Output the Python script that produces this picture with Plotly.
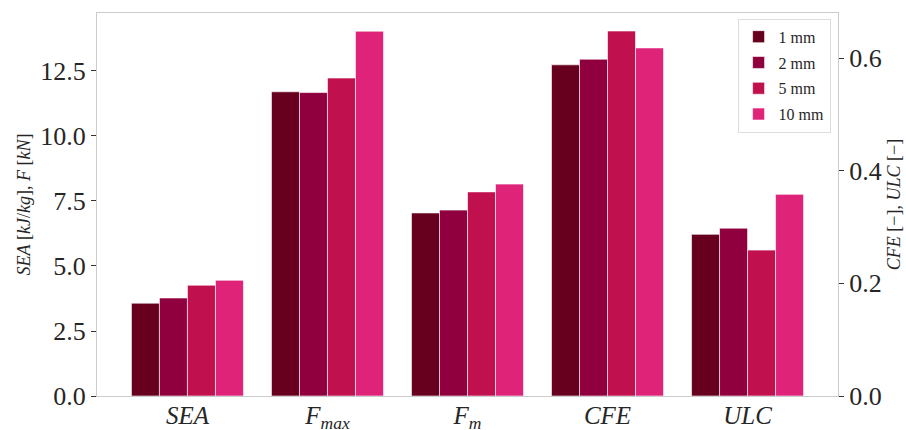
import plotly.graph_objects as go

# Metric groups: the first three use the left axis, the last two the right axis
metrics_left = ["<i>SEA</i>", "<i>F</i><sub><i>max</i></sub>", "<i>F</i><sub><i>m</i></sub>"]
metrics_right = ["<i>CFE</i>", "<i>ULC</i>"]
categories = metrics_left + metrics_right

series_names = ["1 mm", "2 mm", "5 mm", "10 mm"]
colors = ["#67001f", "#91003e", "#c0104d", "#df2379"]

# SEA [kJ/kg], Fmax [kN], Fm [kN]
left_values = {
    "1 mm": [3.57, 11.70, 7.04],
    "2 mm": [3.77, 11.67, 7.15],
    "5 mm": [4.26, 12.23, 7.85],
    "10 mm": [4.45, 14.03, 8.15],
}
# CFE [-], ULC [-]
right_values = {
    "1 mm": [0.588, 0.287],
    "2 mm": [0.598, 0.298],
    "5 mm": [0.648, 0.259],
    "10 mm": [0.618, 0.358],
}

bar_w = 0.2
font_family = "Liberation Serif, DejaVu Serif, serif"

fig = go.Figure()
for i, name in enumerate(series_names):
    offset = -0.4 + bar_w * i
    common = dict(
        width=bar_w, offset=offset,
        marker=dict(color=colors[i], line=dict(color="rgba(255,255,255,0.6)", width=1)),
    )
    fig.add_trace(go.Bar(x=metrics_left, y=left_values[name], name=name,
                         legendgroup=name, yaxis="y", **common))
    fig.add_trace(go.Bar(x=metrics_right, y=right_values[name], name=name,
                         legendgroup=name, showlegend=False, yaxis="y2", **common))

axis_line = dict(showline=True, linecolor="#cccccc", linewidth=1, showgrid=False,
                 zeroline=False, automargin=False)

fig.update_layout(
    width=906, height=430,
    margin=dict(l=97, r=68, t=13, b=34),
    plot_bgcolor="white", paper_bgcolor="white",
    barmode="overlay",
    font=dict(family=font_family, color="#262626"),
    xaxis=dict(
        type="category", categoryorder="array", categoryarray=categories,
        range=[-0.646, 4.646], ticks="", mirror=True,
        tickfont=dict(size=25), ticklabelstandoff=-3, **axis_line,
    ),
    yaxis=dict(
        range=[0, 14.73], dtick=2.5, tickformat=".1f",
        ticks="outside", ticklen=5, tickcolor="#333333",
        tickfont=dict(size=26),
        title=dict(text="<i>SEA</i> [<i>kJ</i>/<i>kg</i>], <i>F</i> [<i>kN</i>]",
                   font=dict(size=18), standoff=4),
        **axis_line,
    ),
    yaxis2=dict(
        overlaying="y", side="right",
        range=[0, 0.68], dtick=0.2, tickformat=".1f",
        ticks="outside", ticklen=5, tickcolor="#333333",
        tickfont=dict(size=26),
        title=dict(text="<i>CFE</i> [−], <i>ULC</i> [−]",
                   font=dict(size=18), standoff=6),
        **axis_line,
    ),
    legend=dict(
        x=0.99, y=0.985, xanchor="right", yanchor="top",
        bgcolor="rgba(255,255,255,0.8)", bordercolor="#dddddd", borderwidth=1,
        font=dict(size=16), itemwidth=30, tracegroupgap=2,
    ),
)

fig.write_html("out.html")
